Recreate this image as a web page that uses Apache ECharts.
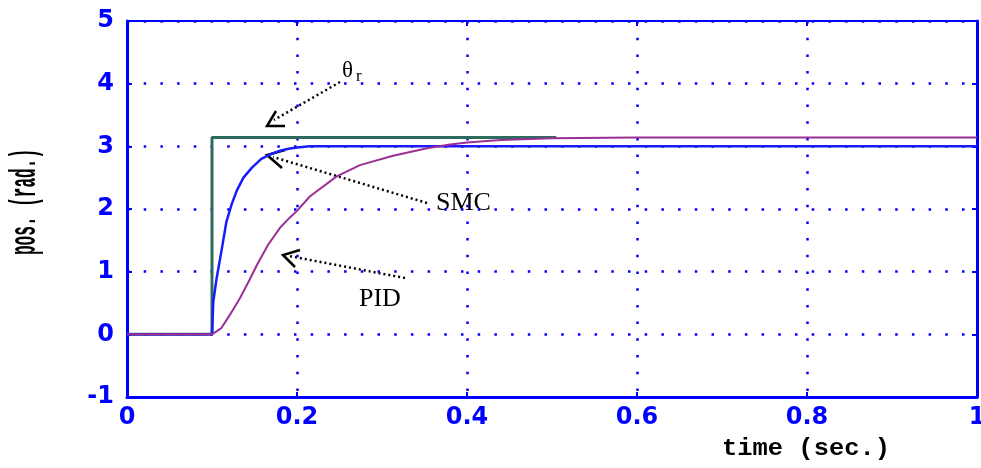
<!DOCTYPE html>
<html>
<head>
<meta charset="utf-8">
<script src="https://cdn.jsdelivr.net/npm/echarts@6/dist/echarts.min.js"></script>
<style>
  html, body { margin: 0; padding: 0; background: #fff; }
  #chart { width: 981px; height: 468px; }
</style>
</head>
<body>
<div id="chart"></div>
<script>
// reference step (theta_r)
var refT = [0, 0.1, 0.1, 0.505];
var refY = [0, 0, 3.1416, 3.1416];

// sliding mode controller response
var smcT = [0, 0.1, 0.1015, 0.1055, 0.111, 0.117, 0.123, 0.129, 0.137, 0.147, 0.158, 0.17, 0.18, 0.19, 0.2, 0.215, 1];
var smcY = [0, 0, 0.52, 0.9, 1.32, 1.8, 2.07, 2.29, 2.5, 2.66, 2.8, 2.88, 2.93, 2.96, 2.98, 3.0, 3.0];

// PID response
var pidT = [0, 0.1, 0.111, 0.121, 0.133, 0.143, 0.153, 0.166, 0.18, 0.192, 0.2, 0.215, 0.2467, 0.274, 0.313, 0.353, 0.38, 0.4, 0.44, 0.5, 0.6, 1];
var pidY = [0, 0, 0.1, 0.31, 0.58, 0.84, 1.11, 1.43, 1.7, 1.87, 1.97, 2.2, 2.52, 2.7, 2.85, 2.97, 3.03, 3.06, 3.1, 3.13, 3.14, 3.14];

var xTicks = [0, 0.2, 0.4, 0.6, 0.8, 1];
var yTicks = [-1, 0, 1, 2, 3, 4, 5];

function pairs(t, y) {
    return t.map(function (v, i) { return [v, y[i]]; });
}

var blue = '#0000ff';
var tickFont = { color: blue, fontSize: 24, fontFamily: 'DejaVu Sans', fontWeight: 'bold' };
var dots = { color: blue, width: 2.5, type: [2.5, 14.2] };
var titleFont = 'bold 24px "Liberation Mono"';

var myChart = echarts.init(document.getElementById('chart'));

var option = {
    backgroundColor: '#fff',
    animation: false,
    grid: { left: 127, right: 4, top: 21, bottom: 71, outerBoundsMode: 'none',
            show: true, borderColor: blue, borderWidth: 2 },
    xAxis: [{
        type: 'value', min: xTicks[0], max: xTicks[xTicks.length - 1], interval: 0.2,
        axisLine: { onZero: false, lineStyle: { color: blue, width: 3 } },
        axisTick: { inside: true, length: 5, lineStyle: { color: blue, width: 2 } },
        axisLabel: Object.assign({ margin: 9, formatter: function (v) { return String(v); } }, tickFont),
        splitLine: { show: true, lineStyle: dots }
    }, {
        type: 'value', position: 'top', min: 0, max: 1, interval: 0.2,
        axisLine: { show: true, onZero: false, lineStyle: { color: blue, width: 2 } },
        axisTick: { inside: true, length: 5, lineStyle: { color: blue, width: 2 } },
        axisLabel: { show: false }, splitLine: { show: false }
    }],
    yAxis: [{
        type: 'value', min: yTicks[0], max: yTicks[yTicks.length - 1], interval: 1,
        axisLine: { onZero: false, lineStyle: { color: blue, width: 3 } },
        axisTick: { inside: true, length: 5, lineStyle: { color: blue, width: 2 } },
        axisLabel: Object.assign({ margin: 13 }, tickFont),
        splitLine: { show: true, lineStyle: dots }
    }, {
        type: 'value', position: 'right', min: -1, max: 5, interval: 1,
        axisLine: { show: true, onZero: false, lineStyle: { color: blue, width: 3 } },
        axisTick: { inside: true, length: 5, lineStyle: { color: blue, width: 2 } },
        axisLabel: { show: false }, splitLine: { show: false }
    }],
    series: [{
        name: 'theta_r', type: 'line', data: pairs(refT, refY),
        showSymbol: false, lineStyle: { color: '#2e6b5e', width: 3 }, z: 2
    }, {
        name: 'SMC', type: 'line', data: pairs(smcT, smcY),
        showSymbol: false, lineStyle: { color: '#1a1aff', width: 2.5 }, z: 3
    }, {
        name: 'PID', type: 'line', data: pairs(pidT, pidY),
        showSymbol: false, lineStyle: { color: '#9a2f96', width: 2 }, z: 4
    }],
    graphic: [
        // axis titles (stretched like the original bitmap font)
        { type: 'text', x: 806, y: 449, scaleX: 1.06, scaleY: 1,
          style: { text: 'time (sec.)', fill: '#000', font: titleFont, align: 'center', verticalAlign: 'middle' } },
        { type: 'text', x: 26, y: 202, rotation: Math.PI / 2, scaleX: 0.67, scaleY: 1.5,
          style: { text: 'pos. (rad.)', fill: '#000', font: titleFont, align: 'center', verticalAlign: 'middle' } },
        // theta_r label
        { type: 'text', left: 342, top: 59, style: { text: 'θ', fill: '#000', font: '23px "Liberation Serif"' } },
        { type: 'text', left: 356, top: 68, style: { text: 'r', fill: '#000', font: '17px "Liberation Serif"' } },
        { type: 'line', shape: { x1: 340, y1: 82, x2: 274, y2: 120 }, style: { stroke: '#000', lineWidth: 2.5, lineDash: [2, 3] } },
        { type: 'polyline', shape: { points: [[276, 111], [267, 126], [285, 126]] }, style: { stroke: '#000', lineWidth: 2.5, fill: null } },
        // SMC label
        { type: 'text', left: 436, top: 190, style: { text: 'SMC', fill: '#000', font: '26px "Liberation Serif"' } },
        { type: 'line', shape: { x1: 427, y1: 203, x2: 273, y2: 157 }, style: { stroke: '#000', lineWidth: 2.5, lineDash: [2, 3] } },
        { type: 'polyline', shape: { points: [[285, 150], [267, 155], [282, 168]] }, style: { stroke: '#000', lineWidth: 2.5, fill: null } },
        // PID label
        { type: 'text', left: 359, top: 286, style: { text: 'PID', fill: '#000', font: '26px "Liberation Serif"' } },
        { type: 'line', shape: { x1: 405, y1: 278, x2: 289, y2: 256 }, style: { stroke: '#000', lineWidth: 2.5, lineDash: [2, 3] } },
        { type: 'polyline', shape: { points: [[300, 250], [283, 255], [295, 267]] }, style: { stroke: '#000', lineWidth: 2.5, fill: null } }
    ]
};

myChart.setOption(option);
</script>
</body>
</html>
